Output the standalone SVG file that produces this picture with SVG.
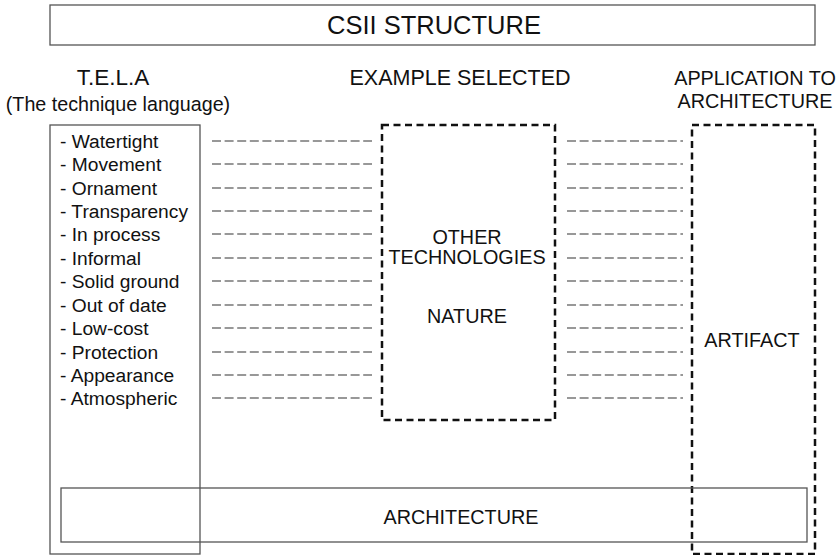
<svg xmlns="http://www.w3.org/2000/svg" width="838" height="555" viewBox="0 0 838 555">
<style>
text{font-family:"Liberation Sans",Arial,sans-serif;fill:#111}
.box{fill:none;stroke:#555;stroke-width:1.3}
.dbox{fill:none;stroke:#111;stroke-width:2.5;stroke-dasharray:7,4.5}
.conn line{stroke:#777;stroke-width:1.3;stroke-dasharray:9,3.6}
.item{font-size:19.2px}
.h{font-size:19.8px;text-anchor:middle}
</style>
<rect width="838" height="555" fill="#fff"/>
<g id="title"><rect class="box" x="50" y="5" width="765" height="40"/><text x="434" y="34" font-size="25.5" text-anchor="middle">CSII STRUCTURE</text></g>
<g id="tela">
<text x="113" y="85" font-size="22.5" text-anchor="middle">T.E.L.A</text>
<text x="118" y="111" font-size="19.7" text-anchor="middle">(The technique language)</text>
<rect class="box" x="50" y="125" width="150" height="429"/>
<g class="item">
<text x="60" y="148">- Watertight</text>
<text x="60" y="171">- Movement</text>
<text x="60" y="195">- Ornament</text>
<text x="60" y="218">- Transparency</text>
<text x="60" y="241">- In process</text>
<text x="60" y="265">- Informal</text>
<text x="60" y="288">- Solid ground</text>
<text x="60" y="312">- Out of date</text>
<text x="60" y="335">- Low-cost</text>
<text x="60" y="359">- Protection</text>
<text x="60" y="382">- Appearance</text>
<text x="60" y="405">- Atmospheric</text>
</g>
</g>
<g id="example">
<text class="h" x="460" y="85" font-size="21.5" style="font-size:21.5px">EXAMPLE SELECTED</text>
<rect class="dbox" x="382" y="125" width="173" height="295"/>
<text class="h" x="467" y="244">OTHER</text>
<text class="h" x="467" y="264">TECHNOLOGIES</text>
<text class="h" x="467" y="323">NATURE</text>
</g>
<g id="application">
<text class="h" x="755" y="85">APPLICATION TO</text>
<text class="h" x="755" y="108">ARCHITECTURE</text>
<rect class="dbox" x="692" y="125" width="123" height="429"/>
<text class="h" x="752" y="347">ARTIFACT</text>
</g>
<g id="architecture"><rect class="box" x="61" y="488" width="746" height="54"/><text class="h" x="461" y="524">ARCHITECTURE</text></g>
<g class="conn" id="connectors">
<line x1="212" y1="141" x2="372" y2="141"/><line x1="567" y1="141" x2="683" y2="141"/>
<line x1="212" y1="164" x2="372" y2="164"/><line x1="567" y1="164" x2="683" y2="164"/>
<line x1="212" y1="188" x2="372" y2="188"/><line x1="567" y1="188" x2="683" y2="188"/>
<line x1="212" y1="211" x2="372" y2="211"/><line x1="567" y1="211" x2="683" y2="211"/>
<line x1="212" y1="234" x2="372" y2="234"/><line x1="567" y1="234" x2="683" y2="234"/>
<line x1="212" y1="258" x2="372" y2="258"/><line x1="567" y1="258" x2="683" y2="258"/>
<line x1="212" y1="281" x2="372" y2="281"/><line x1="567" y1="281" x2="683" y2="281"/>
<line x1="212" y1="305" x2="372" y2="305"/><line x1="567" y1="305" x2="683" y2="305"/>
<line x1="212" y1="328" x2="372" y2="328"/><line x1="567" y1="328" x2="683" y2="328"/>
<line x1="212" y1="352" x2="372" y2="352"/><line x1="567" y1="352" x2="683" y2="352"/>
<line x1="212" y1="375" x2="372" y2="375"/><line x1="567" y1="375" x2="683" y2="375"/>
<line x1="212" y1="398" x2="372" y2="398"/><line x1="567" y1="398" x2="683" y2="398"/>
</g>
</svg>
